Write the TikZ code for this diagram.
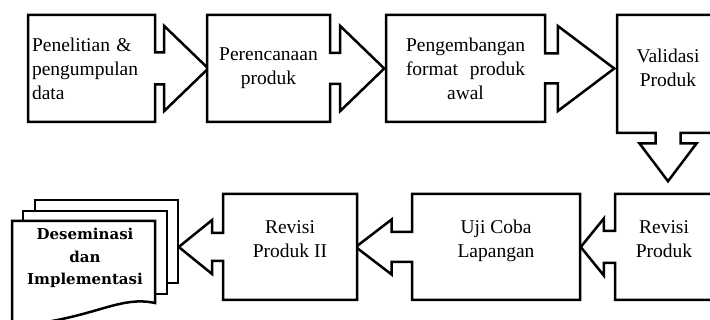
\documentclass[tikz,border=0pt]{standalone}
\usepackage{fontspec}
\setmainfont{Liberation Serif}
\newfontfamily\docfont{DejaVu Serif}
\usetikzlibrary{shapes.arrows}
\tikzset{
	stage/.style={arrow box, draw=black, line width=2.5pt, fill=white, align=center, inner sep=2pt, minimum height=107pt, font=\fontsize{19.5}{24}\selectfont},
	lowstage/.style={stage, minimum height=106pt, text depth=16pt},
	sheet/.style={draw=black, line width=2.5pt, fill=white},
}

\begin{document}
\begin{tikzpicture}[x=1pt, y=-1pt]
	\clip (0,0) rectangle (710,320);
	% top row
	\node[stage, minimum width=127pt, text width=119pt, align=left, arrow box arrows={east:52pt}, arrow box shaft width=32pt, arrow box head extend=26.5pt, arrow box tip angle=88] (research) at (91.5,68.5) {\makebox[102pt][s]{Penelitian \&}\\pengumpulan\\data};
	\node[stage, minimum width=123pt, arrow box arrows={east:53pt}, arrow box shaft width=31pt, arrow box head extend=27pt, arrow box tip angle=88] (planning) at (268.5,68.5) {Perencanaan\\produk};
	\node[stage, minimum width=159pt, text width=119pt, arrow box arrows={east:68pt}, arrow box shaft width=30pt, arrow box head extend=27.5pt, arrow box tip angle=74] (develop) at (465.5,68.5) {Pengembangan\\format\hfill produk\\awal};
	\node[stage, minimum width=102pt, minimum height=118pt, text depth=12pt, arrow box arrows={south:47pt}, arrow box shaft width=25pt, arrow box head extend=16pt, arrow box tip angle=74] (validate) at (668,74) {Validasi\\Produk};
	% bottom row
	\node[lowstage, minimum width=98pt, arrow box arrows={west:33pt}, arrow box shaft width=32pt, arrow box head extend=12.5pt, arrow box tip angle=102] (revise) at (664,247) {Revisi\\Produk};
	\node[lowstage, minimum width=168pt, arrow box arrows={west:55pt}, arrow box shaft width=30pt, arrow box head extend=12.5pt, arrow box tip angle=75] (fieldtest) at (496,247) {Uji Coba\\Lapangan};
	\node[lowstage, minimum width=134pt, arrow box arrows={west:43pt}, arrow box shaft width=28pt, arrow box head extend=13pt, arrow box tip angle=78] (revise2) at (290,247) {Revisi\\Produk II};
	% document stack
	\draw[sheet] (35,200) rectangle (178,283);
	\draw[sheet] (23,211) rectangle (167,294);
	\draw[sheet] (12,221) -- (155,221) -- (155,303) .. controls (122,296) and (100,314) .. (40,323) -- (12,330) -- cycle;
	\node[font=\docfont\bfseries\fontsize{15}{22.5}\selectfont, align=center] (spread) at (85,258) {Deseminasi\\dan\\Implementasi};
\end{tikzpicture}
\end{document}
